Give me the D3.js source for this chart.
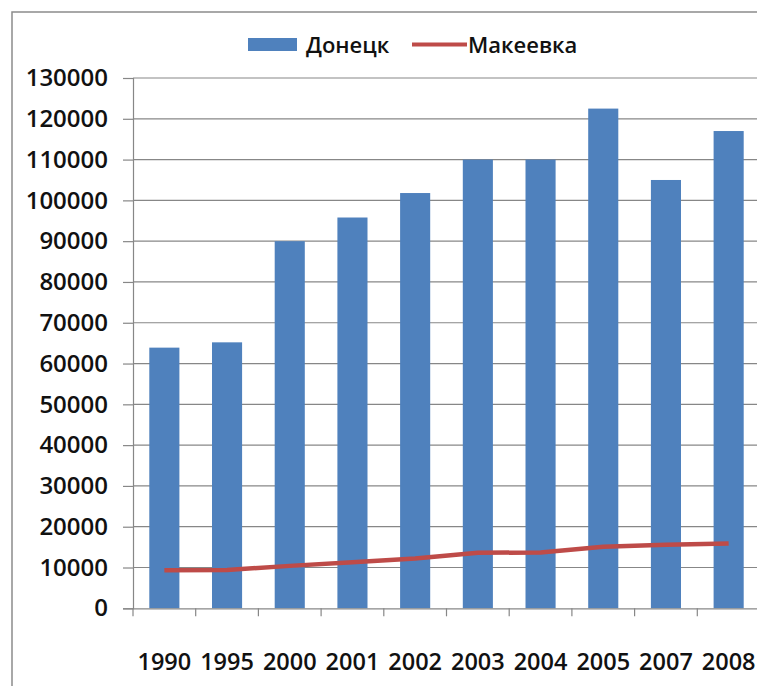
<!DOCTYPE html>
<html><head><meta charset="utf-8">
<script src="https://cdn.jsdelivr.net/npm/d3@7"></script>
<style>body{margin:0;background:#fff;overflow:hidden}</style>
</head><body>
<svg id="c" width="757" height="686"></svg>
<script>
const categories = ["1990","1995","2000","2001","2002","2003","2004","2005","2007","2008"];
const donetsk = [63900, 65200, 90000, 95800, 101800, 110000, 110000, 122500, 105000, 117000];
const makeevka = [9300, 9400, 10400, 11300, 12200, 13600, 13700, 15100, 15600, 15900];
const yTicks = [0,10000,20000,30000,40000,50000,60000,70000,80000,90000,100000,110000,120000,130000];
const seriesNames = ["Донецк", "Макеевка"];

(function(){
const svg = d3.select("#c");
const font = "'Open Sans', sans-serif";
const blue = "#4F81BD", red = "#BE4B48", grid = "#878787";

// frame
svg.append("rect").attr("x",12).attr("y",12).attr("width",1200).attr("height",1200)
  .attr("fill","#fff").attr("stroke","#8c8c8c").attr("stroke-width",1.5);

const pLeft = 133, pRight = 760, pTop = 78, pBottom = 608.3;
const x = d3.scaleBand().domain(categories).range([pLeft, pRight]).paddingInner(0.52).paddingOuter(0.26);
const xb = d3.scaleBand().domain(categories).range([pLeft, pRight]);
const y = d3.scaleLinear().domain([0,130000]).range([pBottom, pTop]);

// gridlines
svg.append("g").selectAll("line").data(yTicks.filter(d=>d>0)).join("line")
  .attr("x1",pLeft).attr("x2",800).attr("y1",d=>y(d)).attr("y2",d=>y(d))
  .attr("stroke",grid).attr("stroke-width",1.2);

// bars
svg.append("g").selectAll("rect").data(categories).join("rect")
  .attr("x",d=>x(d)).attr("width",x.bandwidth())
  .attr("y",(d,i)=>y(donetsk[i])).attr("height",(d,i)=>y(0)-y(donetsk[i]))
  .attr("fill",blue);

// y axis
const yAxis = d3.axisLeft(y).tickValues(yTicks).tickSize(10).tickPadding(15).tickFormat(d3.format("d"));
const gy = svg.append("g").attr("transform",`translate(${pLeft},0)`).call(yAxis);
gy.select(".domain").attr("stroke",grid).attr("stroke-width",1.2);
gy.selectAll(".tick line").attr("stroke",grid).attr("stroke-width",1.2);
gy.selectAll("text").attr("font-family",font).attr("font-size",24).attr("font-weight",600).attr("fill","#111");

// x axis
const xAxis = d3.axisBottom(xb).tickSize(0).tickPadding(45);
const gx = svg.append("g").attr("transform",`translate(0,${pBottom})`).call(xAxis);
gx.select(".domain").attr("stroke",grid).attr("stroke-width",1.2);
gx.selectAll("text").attr("font-family",font).attr("font-size",23.5).attr("font-weight",600).attr("fill","#111");
// category boundary ticks
svg.append("g").selectAll("line").data(categories).join("line")
  .attr("x1",d=>xb(d)).attr("x2",d=>xb(d)).attr("y1",pBottom).attr("y2",pBottom+8)
  .attr("stroke",grid).attr("stroke-width",1.2);

// line
const line = d3.line().x((d,i)=>xb(categories[i])+xb.bandwidth()/2).y(d=>y(d));
svg.append("path").datum(makeevka).attr("d",line).attr("fill","none")
  .attr("stroke",red).attr("stroke-width",4.5).attr("stroke-linejoin","round");

// legend
const lg = svg.append("g");
lg.append("rect").attr("x",248).attr("y",38).attr("width",49).attr("height",13).attr("fill",blue);
lg.append("text").attr("x",306).attr("y",53).text(seriesNames[0])
  .attr("font-family",font).attr("font-size",22).attr("font-weight",600).attr("fill","#111");
lg.append("line").attr("x1",412).attr("x2",467).attr("y1",44.5).attr("y2",44.5).attr("stroke",red).attr("stroke-width",4);
lg.append("text").attr("x",468).attr("y",53).text(seriesNames[1])
  .attr("font-family",font).attr("font-size",22).attr("font-weight",600).attr("fill","#111");
})();
</script>
</body></html>
